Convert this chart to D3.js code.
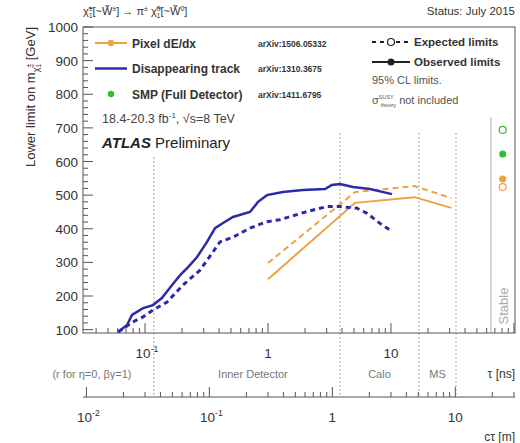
<!DOCTYPE html>
<html lang="en">
<head>
    <meta charset="UTF-8">
    <title>Chargino lifetime limits summary</title>
    <script src="https://cdnjs.cloudflare.com/ajax/libs/d3/7.8.2/d3.min.js"></script>
    <style>
        body { margin: 0; background: #fff; }
        svg text { font-family: "Liberation Sans", Arial, sans-serif; fill: #333; }
    </style>
</head>
<body>
<div id="chart"></div>
<script>
    // Disappearing track (arXiv:1310.3675), tau in ns, mass in GeV
    const dtObsTau = [0.0604, 0.0714, 0.0784, 0.0964, 0.116, 0.137, 0.166, 0.193, 0.224, 0.265, 0.319, 0.371, 0.431, 0.519, 0.714, 0.83, 0.98, 1.32, 1.93, 2.91, 3.31, 3.85, 4.91, 6.75, 10.2];
    const dtObsMass = [93, 114, 144, 164, 173, 194, 233, 262, 286, 316, 361, 402, 417, 435, 450, 480, 500, 509, 515, 518, 530, 533, 524, 518, 503];
    const dtExpTau = [0.0604, 0.0798, 0.0964, 0.116, 0.151, 0.204, 0.28, 0.357, 0.407, 0.519, 0.714, 0.98, 1.25, 2.07, 3.02, 3.85, 5.29, 6.38, 8.14, 10.2];
    const dtExpMass = [93, 123, 138, 158, 182, 233, 277, 331, 361, 375, 402, 421, 427, 451, 466, 466, 461, 446, 416, 392];

    // Pixel dE/dx (arXiv:1506.05332)
    const pixTau = [1, 5.1, 15.5, 31];
    const pixObsMass = [250, 477, 494, 462];
    const pixExpMass = [298, 509, 527, 491];

    // SMP full detector, stable (arXiv:1411.6795) and pixel stable points
    const stablePoints = [
        { mass: 694, color: "#2fbf2f", open: true },
        { mass: 622, color: "#2fbf2f", open: false },
        { mass: 548, color: "#f0a040", open: false },
        { mass: 524, color: "#f0a040", open: true }
    ];

    const regionBounds = [0.118, 3.85, 16.9, 33.8];
    const regionLabels = [
        { text: "Inner Detector", from: 0.118, to: 3.85 },
        { text: "Calo", from: 3.85, to: 16.9 },
        { text: "MS", from: 16.9, to: 33.8 }
    ];
    const yTicks = [100, 200, 300, 400, 500, 600, 700, 800, 900, 1000];

    const W = 520, H = 443;
    const mLeft = 83, mRight = 515, mTop = 27, mBottom = 333;
    const ctAxisY = 397;
    const blue = "#2b2ba8", orange = "#f0a040";

    const svg = d3.select("#chart").append("svg")
        .attr("width", W).attr("height", H);

    const x = d3.scaleLog().domain([0.0313, 102]).range([mLeft, mRight]);
    const y = d3.scaleLinear().domain([90, 1000]).range([mBottom, mTop]);
    const cTau = 0.29979; // m per ns
    const xct = ct => x(ct / cTau);
    const stableTau = 81;

    // region boundaries (dotted)
    svg.append("g").selectAll("line").data(regionBounds).enter().append("line")
        .attr("x1", d => x(d)).attr("x2", d => x(d))
        .attr("y1", (d, i) => i === 0 ? 157 : 133).attr("y2", ctAxisY)
        .attr("stroke", "#888").attr("stroke-width", 1)
        .attr("stroke-dasharray", "1.5,2.5");

    // stable separator
    svg.append("line")
        .attr("x1", x(65)).attr("x2", x(65)).attr("y1", 117).attr("y2", mBottom)
        .attr("stroke", "#bbb").attr("stroke-width", 1.2);
    svg.append("text")
        .attr("transform", `translate(${x(stableTau) + 5},306) rotate(-90)`)
        .attr("text-anchor", "middle").attr("font-size", 13)
        .style("fill", "#aaa").text("Stable");

    // frame
    svg.append("rect")
        .attr("x", mLeft).attr("y", mTop).attr("width", mRight - mLeft).attr("height", mBottom - mTop)
        .attr("fill", "none").attr("stroke", "#555").attr("stroke-width", 1);

    // y ticks (inside)
    const yMinor = d3.range(100, 1001, 20);
    svg.append("g").selectAll("line").data(yMinor).enter().append("line")
        .attr("x1", mLeft).attr("x2", d => mLeft + (d % 100 === 0 ? 10 : 5))
        .attr("y1", d => y(d)).attr("y2", d => y(d))
        .attr("stroke", "#555");
    svg.append("g").selectAll("text").data(yTicks).enter().append("text")
        .attr("x", mLeft - 5).attr("y", d => y(d) + 5)
        .attr("text-anchor", "end").attr("font-size", 13.5).text(d => d);

    // log tick helper
    function logTicks(lo, hi) {
        const out = [];
        for (let e = -3; e <= 3; e++) {
            for (let m = 1; m <= 9; m++) {
                const v = m * Math.pow(10, e);
                if (v >= lo && v <= hi) out.push({ v: v, major: m === 1 });
            }
        }
        return out;
    }

    // tau ticks on bottom of frame
    svg.append("g").selectAll("line").data(logTicks(0.0313, 102)).enter().append("line")
        .attr("x1", d => x(d.v)).attr("x2", d => x(d.v))
        .attr("y1", mBottom).attr("y2", d => mBottom - (d.major ? 10 : 5))
        .attr("stroke", "#555");

    // ct axis
    svg.append("line").attr("x1", mLeft).attr("x2", mRight)
        .attr("y1", ctAxisY).attr("y2", ctAxisY).attr("stroke", "#555");
    svg.append("g").selectAll("line").data(logTicks(0.0094, 30.5)).enter().append("line")
        .attr("x1", d => xct(d.v)).attr("x2", d => xct(d.v))
        .attr("y1", ctAxisY).attr("y2", d => ctAxisY - (d.major ? 10 : 5))
        .attr("stroke", "#555");

    function powLabel(g, px, py, base, exp, size) {
        const t = g.append("text").attr("x", px).attr("y", py)
            .attr("text-anchor", "middle").attr("font-size", size);
        t.append("tspan").text(base);
        if (exp !== null) {
            t.append("tspan").attr("dy", -6).attr("font-size", size * 0.65).text(exp);
        }
    }
    const tauLabels = [{ v: 0.1, b: "10", e: "-1" }, { v: 1, b: "1", e: null }, { v: 10, b: "10", e: null }];
    tauLabels.forEach(d => powLabel(svg, x(d.v) + (d.e ? 2 : 0), 358, d.b, d.e, 13.5));
    const ctLabels = [{ v: 0.01, b: "10", e: "-2" }, { v: 0.1, b: "10", e: "-1" }, { v: 1, b: "1", e: null }, { v: 10, b: "10", e: null }];
    ctLabels.forEach(d => powLabel(svg, xct(d.v) + (d.e ? 2 : 0), 422, d.b, d.e, 13.5));

    // region labels
    regionLabels.forEach(r => {
        svg.append("text")
            .attr("x", (x(r.from) + x(r.to)) / 2 + (r.text === "Inner Detector" ? 6 : 0))
            .attr("y", 378).attr("text-anchor", "middle").attr("font-size", 11)
            .style("fill", "#777").text(r.text);
    });
    svg.append("text").attr("x", 92).attr("y", 378).attr("text-anchor", "middle")
        .attr("font-size", 11).style("fill", "#777").text("(r for η=0, βγ=1)");
    svg.append("text").attr("x", mRight).attr("y", 378).attr("text-anchor", "end")
        .attr("font-size", 12).text("τ [ns]");
    svg.append("text").attr("x", mRight).attr("y", 441).attr("text-anchor", "end")
        .attr("font-size", 12).text("cτ [m]");

    // y axis title
    const yt = svg.append("text")
        .attr("transform", "translate(35,27) rotate(-90)")
        .attr("text-anchor", "end").attr("font-size", 13);
    yt.append("tspan").text("Lower limit on m");
    yt.append("tspan").attr("dy", 4).attr("font-size", 9).text("χ̃");
    yt.append("tspan").attr("dy", -8).attr("font-size", 7).text("±");
    yt.append("tspan").attr("dx", -4).attr("dy", 10).attr("font-size", 7).text("1");
    yt.append("tspan").attr("dy", -6).text(" [GeV]");

    // header
    const hd = svg.append("text").attr("x", mLeft).attr("y", 15).attr("font-size", 11);
    hd.append("tspan").text("χ̃");
    hd.append("tspan").attr("dy", -4).attr("font-size", 7).text("±");
    hd.append("tspan").attr("dy", 7).attr("dx", -4).attr("font-size", 7).text("1");
    hd.append("tspan").attr("dy", -3).text("[~W̃");
    hd.append("tspan").attr("dy", -4).attr("font-size", 7).text("±");
    hd.append("tspan").attr("dy", 4).text("] → π");
    hd.append("tspan").attr("dy", -4).attr("font-size", 7).text("±");
    hd.append("tspan").attr("dy", 4).text(" χ̃");
    hd.append("tspan").attr("dy", -4).attr("font-size", 7).text("0");
    hd.append("tspan").attr("dy", 7).attr("dx", -4).attr("font-size", 7).text("1");
    hd.append("tspan").attr("dy", -3).text("[~W̃");
    hd.append("tspan").attr("dy", -4).attr("font-size", 7).text("0");
    hd.append("tspan").attr("dy", 4).text("]");
    svg.append("text").attr("x", mRight).attr("y", 15).attr("text-anchor", "end")
        .attr("font-size", 11.5).text("Status: July 2015");

    // curves
    const line = d3.line().x(d => x(d[0])).y(d => y(d[1]));
    const plotG = svg.append("g");
    function drawCurve(taus, masses, color, width, dash) {
        plotG.append("path")
            .datum(taus.map((t, i) => [t, masses[i]]))
            .attr("d", line).attr("fill", "none")
            .attr("stroke", color).attr("stroke-width", width)
            .attr("stroke-dasharray", dash);
    }
    drawCurve(pixTau, pixExpMass, orange, 2, "6,4");
    drawCurve(pixTau, pixObsMass, orange, 2, null);
    drawCurve(dtExpTau, dtExpMass, blue, 3, "5,4");
    drawCurve(dtObsTau, dtObsMass, blue, 2.5, null);

    // stable points
    plotG.selectAll("circle.st").data(stablePoints).enter().append("circle")
        .attr("cx", x(stableTau)).attr("cy", d => y(d.mass)).attr("r", 3.5)
        .attr("fill", d => d.open ? "#fff" : d.color)
        .attr("stroke", d => d.color).attr("stroke-width", d => d.open ? 1.2 : 0);

    // legend (left)
    const legend = [
        { label: "Pixel dE/dx", ref: "arXiv:1506.05332", type: "linedot", color: orange },
        { label: "Disappearing track", ref: "arXiv:1310.3675", type: "line", color: blue },
        { label: "SMP (Full Detector)", ref: "arXiv:1411.6795", type: "dot", color: "#2fbf2f" }
    ];
    legend.forEach((d, i) => {
        const ly = 43 + i * 25.5;
        if (d.type !== "dot") {
            svg.append("line").attr("x1", 95).attr("x2", 127).attr("y1", ly).attr("y2", ly)
                .attr("stroke", d.color).attr("stroke-width", d.type === "line" ? 2.5 : 2);
        }
        if (d.type !== "line") {
            svg.append("circle").attr("cx", 111).attr("cy", ly).attr("r", 3.2).attr("fill", d.color);
        }
        svg.append("text").attr("x", 132).attr("y", ly + 4.5).attr("font-size", 12)
            .attr("font-weight", "bold").text(d.label);
        svg.append("text").attr("x", 258).attr("y", ly + 3.5).attr("font-size", 8.5)
            .attr("font-weight", "bold").text(d.ref);
    });
    const lumi = svg.append("text").attr("x", 102).attr("y", 123).attr("font-size", 12.5).style("fill", "#444");
    lumi.append("tspan").text("18.4-20.3 fb");
    lumi.append("tspan").attr("dy", -5).attr("font-size", 8).text("-1");
    lumi.append("tspan").attr("dy", 5).text(", √s=8 TeV");
    const atl = svg.append("text").attr("x", 102).attr("y", 148).attr("font-size", 15).style("fill", "#222");
    atl.append("tspan").attr("font-weight", "bold").attr("font-style", "italic").text("ATLAS");
    atl.append("tspan").text(" Preliminary");

    // legend (right)
    svg.append("line").attr("x1", 372).attr("x2", 410).attr("y1", 42).attr("y2", 42)
        .attr("stroke", "#222").attr("stroke-width", 1.8).attr("stroke-dasharray", "4,4");
    svg.append("circle").attr("cx", 391).attr("cy", 42).attr("r", 3.5)
        .attr("fill", "#fff").attr("stroke", "#222").attr("stroke-width", 1.2);
    svg.append("text").attr("x", 414).attr("y", 46).attr("font-size", 11.5)
        .attr("font-weight", "bold").text("Expected limits");
    svg.append("line").attr("x1", 372).attr("x2", 410).attr("y1", 62).attr("y2", 62)
        .attr("stroke", "#222").attr("stroke-width", 1.8);
    svg.append("circle").attr("cx", 391).attr("cy", 62).attr("r", 3.5).attr("fill", "#222");
    svg.append("text").attr("x", 414).attr("y", 66).attr("font-size", 11.5)
        .attr("font-weight", "bold").text("Observed limits");
    svg.append("text").attr("x", 372).attr("y", 84).attr("font-size", 11)
        .style("fill", "#555").text("95% CL limits.");
    const sig = svg.append("text").attr("x", 372).attr("y", 104).attr("font-size", 11).style("fill", "#555");
    sig.append("tspan").text("σ");
    sig.append("tspan").attr("dy", -5).attr("font-size", 5.5).text("SUSY");
    sig.append("tspan").attr("dx", -13).attr("dy", 8).attr("font-size", 5.5).text("theory");
    sig.append("tspan").attr("dy", -3).text(" not included");
</script>
</body>
</html>
